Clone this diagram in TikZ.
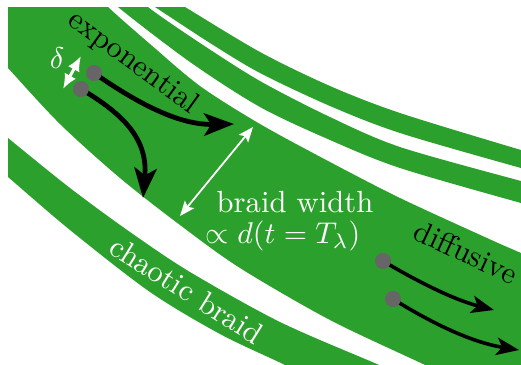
\documentclass[tikz,border=0pt]{standalone}
\usepackage{amsmath}
\usetikzlibrary{arrows.meta}
\definecolor{braidgreen}{RGB}{44,160,44}
\definecolor{dotgray}{RGB}{102,102,102}
\begin{document}
\begin{tikzpicture}[x=0.3333pt,y=-0.3333pt,
  font=\fontsize{10.2}{12}\selectfont,
  band/.style={fill=braidgreen},
  dotnode/.style={circle,fill=dotgray,inner sep=0pt,minimum size=5.3pt},
  bigarrow/.style={line width=1.6pt,-{Stealth[length=10pt,width=7.5pt,inset=2.4pt]}},
  diffarrow/.style={line width=1.2pt,-{Stealth[length=7.5pt,width=5.8pt,inset=1.8pt]}},
  whitearrow/.style={white,line width=0.6pt,{Stealth[length=5pt,width=4pt,inset=1pt]}-{Stealth[length=5pt,width=4pt,inset=1pt]}},
  deltaarrow/.style={white,line width=1pt,{Latex[length=5pt,width=4.3pt]}-{Latex[length=5pt,width=4.3pt]}},
  lbl/.style={inner sep=0pt}]
\useasboundingbox (0,0) rectangle (521,364);
\begin{scope}
\clip (8,7) rectangle (521,364);
% main braid
\fill[band] (-30,-30) -- plot[smooth] coordinates {(95,-8) (108,7) (150,44) (200,86) (260,124) (330,162) (400,198) (487,238) (521,253) (560,270)}
  -- (600,420) -- plot[smooth] coordinates {(460,382) (423,364) (330,320) (240,268) (180,225) (120,178) (60,124) (8,68) (-10,48)} -- cycle;
% band 2
\fill[band] plot[smooth] coordinates {(137,-8) (148,7) (200,43) (260,81) (330,117) (400,147) (521,181) (560,191)}
  -- plot[smooth] coordinates {(560,213) (521,203) (400,168) (330,140) (260,107) (190,62) (118,7) (106,-8)} -- cycle;
% band 3
\fill[band] plot[smooth] coordinates {(160,-8) (185,7) (260,52) (330,86) (400,113) (521,150) (560,161)}
  -- plot[smooth] coordinates {(560,178) (521,168) (400,133) (330,106) (260,73) (210,43) (155,7) (132,-8)} -- cycle;
% chaotic braid
\fill[band] plot[smooth] coordinates {(-10,123) (8,138) (70,188) (130,232) (190,272) (280,322) (377,364) (410,378)}
  -- plot[smooth] coordinates {(310,378) (283,364) (220,334) (150,292) (70,230) (8,177) (-10,162)} -- cycle;
\end{scope}

% texts
\node[lbl,rotate=-36] (expo) at (133,63) {exponential};
\node[lbl,white] (delta) at (57,58) {$\delta$};
\node[lbl,white] (bw1) at (295,202) {braid width};
\node[lbl,white] (bw2) at (283,236) {$\propto d(t=T_\lambda)$};
\node[lbl,rotate=-25] (diff) at (466,252) {diffusive};
\node[lbl,white,rotate=-32] (chaos) at (187,290) {chaotic braid};

% width arrows
\coordinate (bwa) at (253,127);
\coordinate (bwb) at (180,216);
\draw[whitearrow] (bwa) -- (bwb);
\coordinate (da) at (81,56);
\coordinate (db) at (63,89);
\draw[deltaarrow] (da) -- (db);

% dots
\node[dotnode] (p1) at (94,73) {};
\node[dotnode] (p2) at (81,89) {};
\node[dotnode] (q1) at (383,261) {};
\node[dotnode] (q2) at (393,299) {};

\coordinate (t1) at (234,124);
\coordinate (t2) at (143,198);
\coordinate (s1) at (494,310);
\coordinate (s2) at (519,350);

\draw[bigarrow] (p1.center) .. controls (140,105) and (180,125) .. (t1);
\draw[bigarrow] (p2.center) .. controls (125,115) and (148,140) .. (t2);
\draw[diffarrow] (q1.center) .. controls (420,283) and (455,300) .. (s1);
\draw[diffarrow] (q2.center) .. controls (430,322) and (470,342) .. (s2);

\node[dotnode] at (p1) {};
\node[dotnode] at (p2) {};
\node[dotnode] at (q1) {};
\node[dotnode] at (q2) {};
\end{tikzpicture}
\end{document}
